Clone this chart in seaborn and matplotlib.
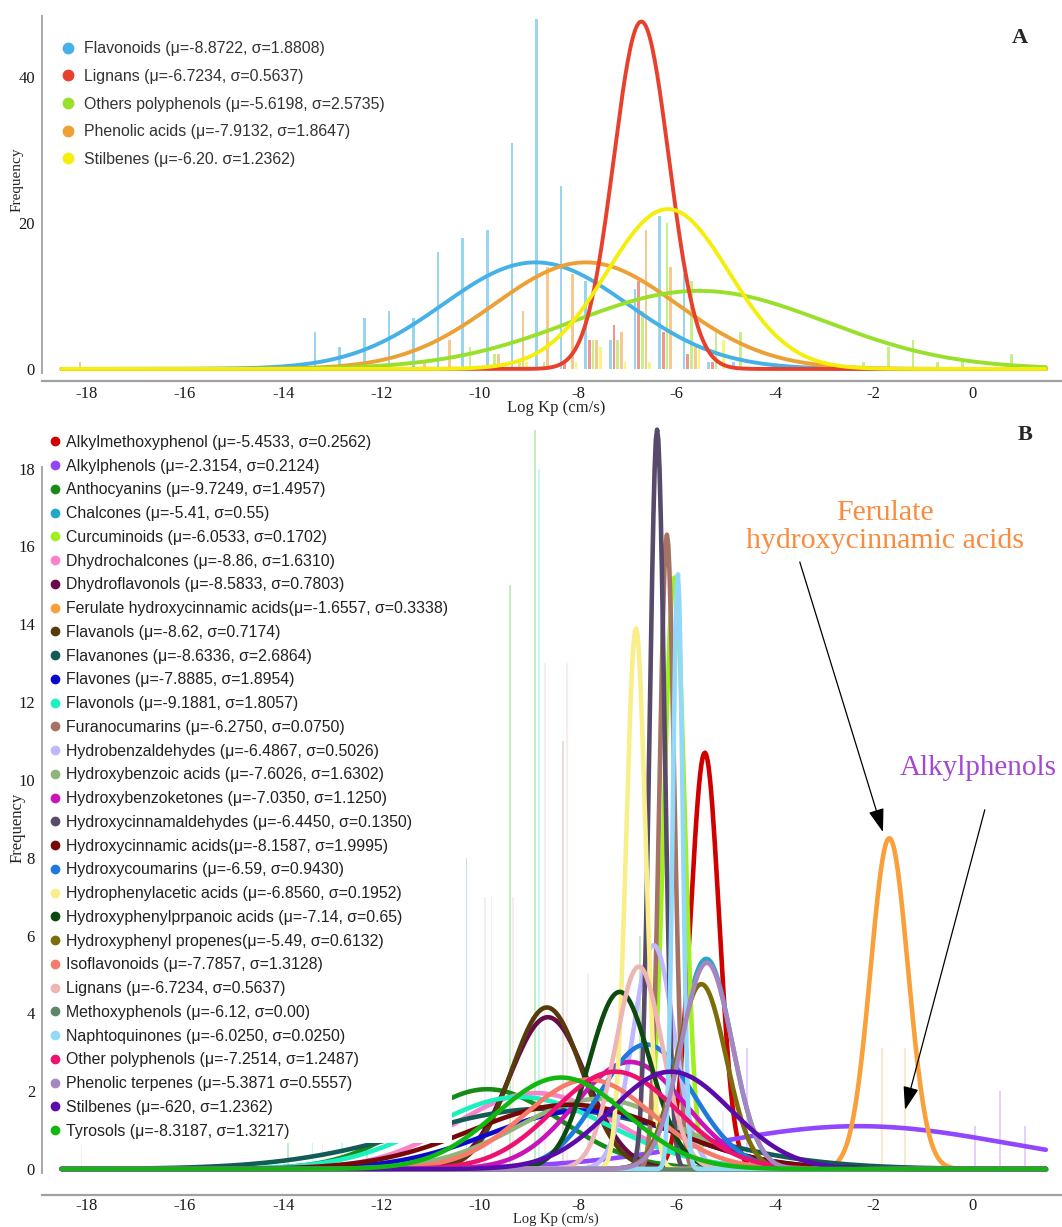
import numpy as np
import pandas as pd
import seaborn as sns
import matplotlib.pyplot as plt
from matplotlib.lines import Line2D

sns.set_theme(style='white')
plt.rcParams['font.family'] = ['Liberation Serif', 'DejaVu Serif']
plt.rcParams['axes.unicode_minus'] = False
SANS = ['Liberation Sans', 'DejaVu Sans']

# ---------------- panel A : five classes, histogram + fitted normal ----------------
a_groups = ['Flavonoids', 'Lignans', 'Others polyphenols', 'Phenolic acids', 'Stilbenes']
a_labels = ['Flavonoids (μ=-8.8722, σ=1.8808)',
            'Lignans (μ=-6.7234, σ=0.5637)',
            'Others polyphenols (μ=-5.6198, σ=2.5735)',
            'Phenolic acids (μ=-7.9132, σ=1.8647)',
            'Stilbenes (μ=-6.20. σ=1.2362)']
a_colors = ['#45B1E6', '#E8402C', '#98E02C', '#EDA035', '#F5EE0C']
a_mu = [-8.87, -6.72, -5.55, -7.85, -6.18]
a_sd = [1.88, 0.56, 2.57, 1.86, 1.24]
a_peak = [14.6, 47.6, 10.7, 14.6, 21.9]
a_draw_order = ['Flavonoids', 'Phenolic acids', 'Others polyphenols', 'Lignans', 'Stilbenes']

# histogram bins (bin centre of the first bar in each group)
a_bins = [-18.35, -17.85, -17.35, -16.85, -16.35, -15.85, -15.35, -14.85, -14.35, -13.85,
          -13.35, -12.85, -12.35, -11.85, -11.35, -10.85, -10.35, -9.85, -9.35, -8.85,
          -8.35, -7.85, -7.35, -6.85, -6.35, -5.85, -5.35, -4.85, -4.35, -3.85,
          -3.35, -2.85, -2.35, -1.85, -1.35, -0.85, -0.35, 0.15, 0.65]
flav_counts = [0, 0, 0, 0, 0, 0, 0, 0, 0, 0,
               5, 3, 7, 8, 7, 16, 18, 19, 31, 48,
               25, 12, 4, 11, 21, 13, 1, 1, 0, 0,
               0, 0, 0, 0, 0, 0, 0, 0, 0]
lign_counts = [0, 0, 0, 0, 0, 0, 0, 0, 0, 0,
               0, 0, 0, 0, 0, 0, 0, 0, 0, 0,
               1, 4, 6, 12, 5, 2, 1, 0, 0, 0,
               0, 0, 0, 0, 0, 0, 0, 0, 0]
other_counts = [0, 0, 0, 0, 0, 0, 0, 0, 0, 0,
                0, 0, 0, 0, 0, 0, 3, 2, 1, 1,
                0, 4, 4, 8, 20, 12, 5, 5, 0, 0,
                0, 0, 1, 3, 4, 1, 1, 0, 2]
phen_counts = [1, 0, 0, 0, 0, 0, 0, 0, 0, 0,
               0, 0, 0, 0, 1, 4, 0, 2, 8, 14,
               13, 4, 5, 19, 14, 3, 0, 0, 0, 0,
               0, 0, 0, 0, 0, 0, 0, 0, 0]
stil_counts = [0, 0, 0, 0, 0, 0, 0, 0, 0, 0,
               0, 0, 0, 0, 0, 0, 0, 0, 1, 0,
               1, 3, 1, 1, 0, 3, 4, 0, 0, 0,
               0, 0, 0, 0, 0, 0, 0, 0, 0]
a_counts = [flav_counts, lign_counts, other_counts, phen_counts, stil_counts]
a_offsets = [0.0, 0.075, 0.15, 0.225, 0.30]

# ---------------- panel B : thirty classes, fitted normal curves ----------------
b_labels = ['Alkylmethoxyphenol (μ=-5.4533, σ=0.2562)',
            'Alkylphenols (μ=-2.3154, σ=0.2124)',
            'Anthocyanins (μ=-9.7249, σ=1.4957)',
            'Chalcones (μ=-5.41, σ=0.55)',
            'Curcuminoids (μ=-6.0533, σ=0.1702)',
            'Dhydrochalcones (μ=-8.86, σ=1.6310)',
            'Dhydroflavonols (μ=-8.5833, σ=0.7803)',
            'Ferulate hydroxycinnamic acids(μ=-1.6557, σ=0.3338)',
            'Flavanols (μ=-8.62, σ=0.7174)',
            'Flavanones (μ=-8.6336, σ=2.6864)',
            'Flavones (μ=-7.8885, σ=1.8954)',
            'Flavonols (μ=-9.1881, σ=1.8057)',
            'Furanocumarins (μ=-6.2750, σ=0.0750)',
            'Hydrobenzaldehydes (μ=-6.4867, σ=0.5026)',
            'Hydroxybenzoic acids (μ=-7.6026, σ=1.6302)',
            'Hydroxybenzoketones (μ=-7.0350, σ=1.1250)',
            'Hydroxycinnamaldehydes (μ=-6.4450, σ=0.1350)',
            'Hydroxycinnamic acids(μ=-8.1587, σ=1.9995)',
            'Hydroxycoumarins (μ=-6.59, σ=0.9430)',
            'Hydrophenylacetic acids (μ=-6.8560, σ=0.1952)',
            'Hydroxyphenylprpanoic acids (μ=-7.14, σ=0.65)',
            'Hydroxyphenyl propenes(μ=-5.49, σ=0.6132)',
            'Isoflavonoids (μ=-7.7857, σ=1.3128)',
            'Lignans (μ=-6.7234, σ=0.5637)',
            'Methoxyphenols (μ=-6.12, σ=0.00)',
            'Naphtoquinones (μ=-6.0250, σ=0.0250)',
            'Other polyphenols (μ=-7.2514, σ=1.2487)',
            'Phenolic terpenes (μ=-5.3871 σ=0.5557)',
            'Stilbenes (μ=-620, σ=1.2362)',
            'Tyrosols (μ=-8.3187, σ=1.3217)']
b_colors = ['#D00000', '#9147FF', '#168C16', '#20A8C8', '#A0F020', '#F883CB',
            '#6B0A48', '#F9A03A', '#573B0C', '#125C55', '#0A0ACF', '#1AF0C0',
            '#A57264', '#BDB8FF', '#90B47A', '#C814B8', '#574A6B', '#780808',
            '#1E7ADB', '#F8EF8A', '#0C4A10', '#7D6C0A', '#F87A6A', '#EDB6B4',
            '#5E876A', '#92D8F8', '#EE1170', '#A685C0', '#5B0AAB', '#12B812']
b_mu = [-5.43, -2.30, -9.85, -5.40, -6.05, -8.86, -8.62, -1.68, -8.64, -8.63,
        -7.89, -9.19, -6.20, -6.47, -7.60, -6.95, -6.40, -8.16, -6.62, -6.83,
        -7.16, -5.50, -7.79, -6.77, -6.12, -5.98, -7.25, -5.39, -6.12, -8.35]
b_sd = [0.29, 3.0, 1.5, 0.52, 0.21, 1.63, 0.78, 0.38, 0.72, 2.69,
        1.9, 1.8, 0.15, 0.42, 1.63, 1.12, 0.15, 2.0, 0.95, 0.2,
        0.62, 0.5, 1.31, 0.48, 0.1, 0.1, 1.25, 0.52, 1.22, 1.32]
b_peak = [10.7, 1.1, 2.05, 5.4, 15.2, 1.95, 3.9, 8.5, 4.15, 1.55,
          1.5, 1.85, 16.3, 5.75, 1.8, 2.75, 19.0, 1.65, 3.2, 13.9,
          4.55, 4.75, 2.3, 5.2, 0.0, 15.3, 2.5, 5.3, 2.5, 2.35]

# faint histogram bars of panel B (position, height, class index)
fb_pos = [-18.1, -13.9, -13.4, -13.2, -12.8, -12.3, -10.27, -9.9, -9.76, -9.39, -9.33,
          -8.88, -8.80, -8.68, -8.31, -8.23, -7.8, -6.75, -5.06, -4.57, -1.83, -1.36,
          0.06, 0.57, 1.08]
fb_h = [0.8, 0.7, 0.7, 0.7, 0.7, 0.7, 8.0, 7.0, 7.0, 15.0, 7.0,
        19.0, 18.0, 13.0, 11.0, 13.0, 5.0, 6.0, 1.5, 3.1, 3.1, 3.1,
        1.1, 2.0, 1.1]
fb_cls = [23, 29, 11, 23, 11, 29, 18, 13, 13, 29, 23,
          29, 11, 23, 12, 23, 13, 29, 13, 1, 7, 7,
          1, 1, 1]

x_grid = np.linspace(-18.5, 1.5, 801)


def fitted(mu, sd, peak):
    return peak * np.exp(-0.5 * ((x_grid - mu) / sd) ** 2)


df_a = pd.concat([pd.DataFrame({'x': x_grid, 'y': fitted(m, s, p), 'group': g})
                  for g, m, s, p in zip(a_groups, a_mu, a_sd, a_peak)])
df_b = pd.concat([pd.DataFrame({'x': x_grid, 'y': fitted(m, s, p), 'group': g})
                  for g, m, s, p in zip(b_labels, b_mu, b_sd, b_peak)])

W, H = 1062, 1227
fig = plt.figure(figsize=(W / 100, H / 100), dpi=100)
axA = fig.add_axes([42 / W, 1 - 372.6 / H, 1020 / W, 356.2 / H])
axB = fig.add_axes([42 / W, 1 - 1174.8 / H, 1020 / W, 756.8 / H])

# ---- panel A
for cnt, off, col in zip(a_counts, a_offsets, a_colors):
    xs = [b + off for b, c in zip(a_bins, cnt) if c > 0]
    hs = [c for c in cnt if c > 0]
    axA.bar(xs, hs, width=0.055, color=col, alpha=0.55, linewidth=0, zorder=1)
sns.lineplot(data=df_a, x='x', y='y', hue='group', hue_order=a_draw_order,
             palette=dict(zip(a_groups, a_colors)), linewidth=2.8, legend=False,
             estimator=None, sort=False, ax=axA, zorder=3)
axA.set_xlim(-18.90, 1.829)
axA.set_ylim(-0.5, 48.3)
axA.set_yticks([0, 20, 40])

hA = [Line2D([], [], ls='', marker='o', markersize=7.5, color=c) for c in a_colors]
legA = axA.legend(hA, a_labels, loc='upper left', bbox_to_anchor=(0.0196, 0.93),
                  frameon=False, prop={'family': SANS, 'size': 11.4},
                  labelspacing=0.8, handlelength=0.75, handletextpad=0.62,
                  borderpad=0, borderaxespad=0)
for t in legA.get_texts():
    t.set_color('#333333')

# ---- panel B
axB.bar(fb_pos, fb_h, width=0.03, color=[b_colors[i] for i in fb_cls], alpha=0.25,
        linewidth=0, zorder=1)
sns.lineplot(data=df_b, x='x', y='y', hue='group', hue_order=b_labels,
             palette=dict(zip(b_labels, b_colors)), linewidth=3.3, legend=False,
             estimator=None, sort=False, ax=axB, zorder=3)
axB.set_xlim(-18.90, 1.829)
axB.set_ylim(-0.15, 19.3)
axB.set_yticks(range(0, 19, 2))
axB.spines['left'].set_bounds(-0.1, 18.05)

hB = [Line2D([], [], ls='', marker='o', markersize=6, color=c) for c in b_colors]
legB = axB.legend(hB, b_labels, loc='upper left', bbox_to_anchor=(0.0039, 0.983),
                  frameon=True, facecolor='white', edgecolor='none', framealpha=1,
                  fancybox=False, prop={'family': SANS, 'size': 11.4},
                  labelspacing=0.553, handlelength=0.7, handletextpad=0.3,
                  borderpad=0.25, borderaxespad=0)
for t in legB.get_texts():
    t.set_color('#222222')

axB.annotate('', xy=(-1.81, 8.66), xytext=(-3.50, 15.60),
             arrowprops=dict(arrowstyle='-|>,head_length=0.9,head_width=0.3',
                             color='black', lw=0.9, mutation_scale=16, shrinkA=0, shrinkB=0))
axB.annotate('', xy=(-1.36, 1.52), xytext=(0.26, 9.23),
             arrowprops=dict(arrowstyle='-|>,head_length=0.9,head_width=0.3',
                             color='black', lw=0.9, mutation_scale=16, shrinkA=0, shrinkB=0))
axB.text(-1.77, 16.5, 'Ferulate\nhydroxycinnamic acids', color='#FA8B3C', fontsize=21.5,
         ha='center', va='center', linespacing=1.12)
axB.text(0.12, 10.31, 'Alkylphenols', color='#A448D4', fontsize=21,
         ha='center', va='center')

# ---- common axis styling
for ax, off, xpad in [(axA, 6.0, 3.5), (axB, 14.5, 2.2)]:
    ax.set_xticks(range(-18, 1, 2))
    ax.set_xlabel('')
    ax.set_ylabel('')
    for s in ['top', 'right']:
        ax.spines[s].set_visible(False)
    ax.spines['left'].set_color('#A8A8A8')
    ax.spines['left'].set_linewidth(1.4)
    ax.spines['bottom'].set_color('#A0A0A0')
    ax.spines['bottom'].set_linewidth(1.6)
    ax.spines['bottom'].set_position(('outward', off))
    ax.tick_params(axis='x', direction='in', length=3, width=1, color='#A0A0A0',
                   labelsize=12, labelcolor='#1a1a1a', pad=xpad)
    ax.tick_params(axis='y', direction='out', length=3, width=1, color='#A0A0A0',
                   labelsize=12, labelcolor='#1a1a1a', pad=2)
    ax.set_facecolor('white')
    ax.patch.set_alpha(0)

fig.text(17 / W, 1 - 180 / H, 'Frequency', rotation=90, ha='center', va='center', fontsize=11)
fig.text(18 / W, 1 - 828 / H, 'Frequency', rotation=90, ha='center', va='center', fontsize=12)
fig.text(556 / W, 1 - 408 / H, 'Log Kp (cm/s)', ha='center', va='center', fontsize=12)
fig.text(556 / W, 1 - 1226.5 / H, 'Log Kp (cm/s)', ha='center', va='bottom', fontsize=10.5)
fig.text(1020 / W, 1 - 38 / H, 'A', ha='center', va='center', fontsize=16, fontweight='bold')
fig.text(1025 / W, 1 - 435 / H, 'B', ha='center', va='center', fontsize=16, fontweight='bold')

fig.savefig('out.png', dpi=100, facecolor='white')
